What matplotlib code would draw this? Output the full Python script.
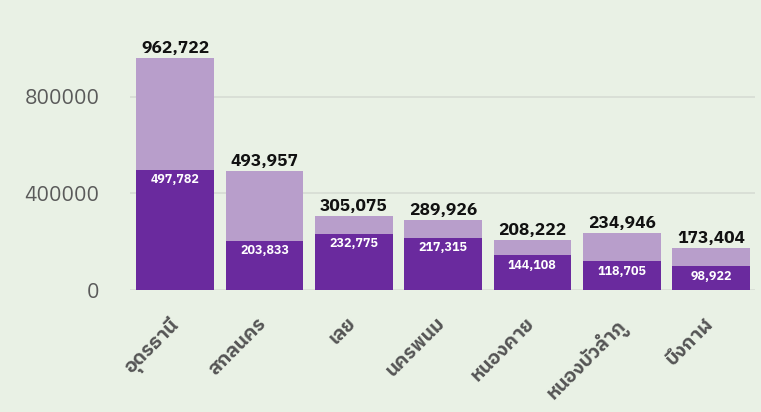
import matplotlib
matplotlib.use("Agg")
import matplotlib.pyplot as plt
from matplotlib import font_manager as fm

provinces = ["อุดรธานี", "สกลนคร", "เลย", "นครพนม", "หนองคาย", "หนองบัวลำภู", "บึงกาฬ"]
totals = [962722, 493957, 305075, 289926, 208222, 234946, 173404]
lower = [497782, 203833, 232775, 217315, 144108, 118705, 98922]
yticks = [0, 400000, 800000]

names = sorted({f.name for f in fm.fontManager.ttflist})
thai = [n for n in names if "Thai" in n]
plt.rcParams['font.family'] = thai + ["DejaVu Sans"]

bg = "#e9f1e5"
dark = "#6a2a9e"
light = "#b89ecb"

fig = plt.figure(figsize=(7.61, 4.12), dpi=100, facecolor=bg)
ax = fig.add_axes([0.171, 0.296, 0.821, 0.692], facecolor=bg)

x = list(range(len(provinces)))
upper = [t - l for t, l in zip(totals, lower)]
ax.bar(x, lower, width=0.87, color=dark, zorder=2)
ax.bar(x, upper, bottom=lower, width=0.87, color=light, zorder=2)

for xi, t, l in zip(x, totals, lower):
    ax.text(xi, t + 8000, f"{t:,}", ha="center", va="bottom", fontsize=12.5,
            fontweight="bold", color="#111111", zorder=3)
    ax.text(xi, l - 14000, f"{l:,}", ha="center", va="top", fontsize=9,
            fontweight="bold", color="white", zorder=3)

ax.set_xlim(-0.504, 6.49)
ax.set_ylim(0, 1181000)
ax.set_yticks(yticks)
ax.set_yticklabels([str(v) for v in yticks], fontsize=15, color="#5a5a5a")
ax.set_xticks(x)
ax.set_xticklabels([])
for xi, name in zip(x, provinces):
    ax.annotate(name, xy=(xi, 0), xycoords=("data", "axes fraction"),
                xytext=(-5, -17.5), textcoords="offset points",
                rotation=45, ha="right", va="top", rotation_mode="anchor",
                fontsize=14, fontweight="bold", color="#555555",
                annotation_clip=False)
ax.tick_params(axis="both", length=0)
ax.tick_params(axis="y", pad=22)
ax.grid(axis="y", color="#d6dcd4", linewidth=1.2, zorder=0)
for s in ax.spines.values():
    s.set_visible(False)

fig.savefig("out.png", dpi=100, facecolor=bg)
